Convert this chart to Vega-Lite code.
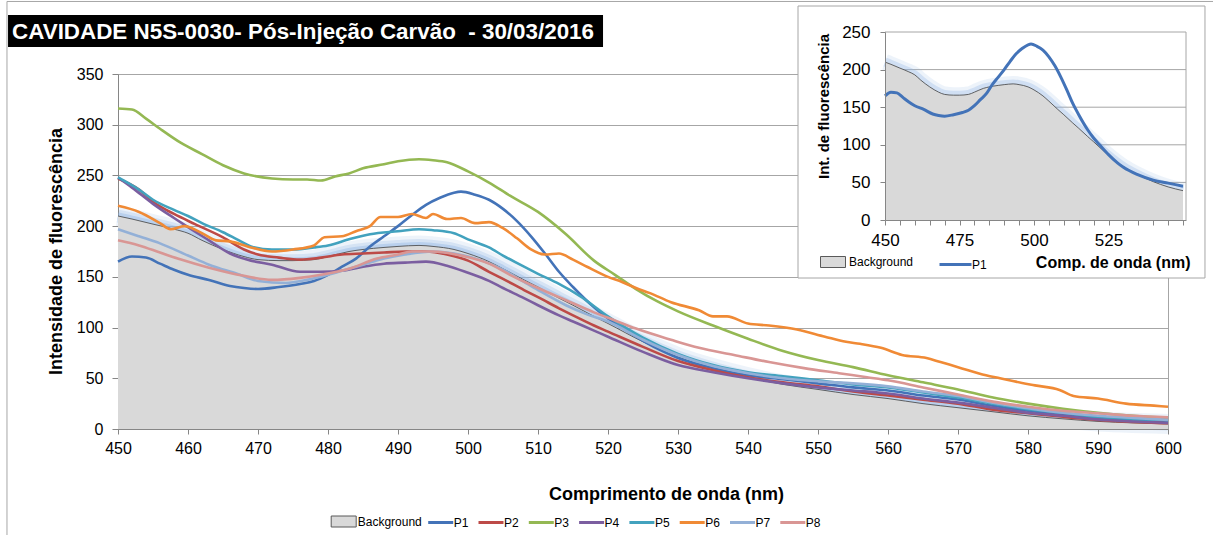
{
  "$schema": "https://vega.github.io/schema/vega-lite/v6.json",
  "width": 1050,
  "height": 355,
  "autosize": {"type": "none"},
  "padding": {"left": 118, "top": 74, "right": 45, "bottom": 106},
  "background": "white",
  "config": {
    "view": {"stroke": "#a6a6a6", "strokeWidth": 1},
    "font": "Liberation Sans",
    "axis": {"labelFont": "Liberation Sans", "titleFont": "Liberation Sans", "labelColor": "#000", "titleColor": "#000", "domainColor": "#868686", "tickColor": "#868686", "gridColor": "#a6a6a6"},
    "legend": {"labelFont": "Liberation Sans", "labelFontSize": 12, "labelColor": "#000", "title": null}
  },
  "datasets": {
    "d": [
      {"s":"Background","nm":450,"v":210},{"s":"Background","nm":452,"v":207},{"s":"Background","nm":455,"v":202},{"s":"Background","nm":458,"v":197},{"s":"Background","nm":460,"v":193},{"s":"Background","nm":462,"v":186},{"s":"Background","nm":465,"v":177},{"s":"Background","nm":468,"v":170},{"s":"Background","nm":470,"v":167},{"s":"Background","nm":473,"v":166},{"s":"Background","nm":475,"v":166},{"s":"Background","nm":478,"v":167},{"s":"Background","nm":480,"v":170},{"s":"Background","nm":483,"v":175},{"s":"Background","nm":485,"v":177},{"s":"Background","nm":488,"v":179},{"s":"Background","nm":490,"v":180},{"s":"Background","nm":493,"v":181},{"s":"Background","nm":495,"v":180},{"s":"Background","nm":498,"v":177},{"s":"Background","nm":500,"v":173},{"s":"Background","nm":503,"v":165},{"s":"Background","nm":505,"v":158},{"s":"Background","nm":508,"v":147},{"s":"Background","nm":510,"v":140},{"s":"Background","nm":513,"v":129},{"s":"Background","nm":515,"v":122},{"s":"Background","nm":518,"v":111},{"s":"Background","nm":520,"v":104},{"s":"Background","nm":525,"v":86},{"s":"Background","nm":530,"v":71},{"s":"Background","nm":535,"v":60},{"s":"Background","nm":540,"v":51},{"s":"Background","nm":545,"v":44},{"s":"Background","nm":550,"v":39},{"s":"Background","nm":555,"v":34},{"s":"Background","nm":560,"v":30},{"s":"Background","nm":565,"v":25},{"s":"Background","nm":570,"v":21},{"s":"Background","nm":575,"v":17},{"s":"Background","nm":580,"v":13},{"s":"Background","nm":585,"v":10},{"s":"Background","nm":590,"v":7.5},{"s":"Background","nm":595,"v":6},{"s":"Background","nm":600,"v":5},
      {"s":"P1","nm":450,"v":165},{"s":"P1","nm":452,"v":170},{"s":"P1","nm":454,"v":169},{"s":"P1","nm":456,"v":163},{"s":"P1","nm":458,"v":157},{"s":"P1","nm":460,"v":152},{"s":"P1","nm":463,"v":147},{"s":"P1","nm":466,"v":141},{"s":"P1","nm":468,"v":139},{"s":"P1","nm":470,"v":138},{"s":"P1","nm":473,"v":140},{"s":"P1","nm":476,"v":143},{"s":"P1","nm":478,"v":146},{"s":"P1","nm":480,"v":152},{"s":"P1","nm":482,"v":160},{"s":"P1","nm":484,"v":168},{"s":"P1","nm":486,"v":180},{"s":"P1","nm":488,"v":190},{"s":"P1","nm":490,"v":200},{"s":"P1","nm":492,"v":211},{"s":"P1","nm":494,"v":221},{"s":"P1","nm":496,"v":228},{"s":"P1","nm":498,"v":233},{"s":"P1","nm":499,"v":234},{"s":"P1","nm":501,"v":231},{"s":"P1","nm":503,"v":226},{"s":"P1","nm":505,"v":217},{"s":"P1","nm":507,"v":205},{"s":"P1","nm":509,"v":190},{"s":"P1","nm":511,"v":173},{"s":"P1","nm":513,"v":155},{"s":"P1","nm":515,"v":140},{"s":"P1","nm":518,"v":120},{"s":"P1","nm":520,"v":109},{"s":"P1","nm":522,"v":100},{"s":"P1","nm":525,"v":87},{"s":"P1","nm":528,"v":76},{"s":"P1","nm":530,"v":70},{"s":"P1","nm":535,"v":60},{"s":"P1","nm":540,"v":53},{"s":"P1","nm":545,"v":49},{"s":"P1","nm":550,"v":45},{"s":"P1","nm":555,"v":41},{"s":"P1","nm":560,"v":38},{"s":"P1","nm":565,"v":33},{"s":"P1","nm":570,"v":29},{"s":"P1","nm":575,"v":23},{"s":"P1","nm":580,"v":18},{"s":"P1","nm":585,"v":14},{"s":"P1","nm":590,"v":11},{"s":"P1","nm":595,"v":9},{"s":"P1","nm":600,"v":7.5},
      {"s":"P2","nm":450,"v":247},{"s":"P2","nm":453,"v":236},{"s":"P2","nm":455,"v":224},{"s":"P2","nm":458,"v":212},{"s":"P2","nm":461,"v":202},{"s":"P2","nm":465,"v":189},{"s":"P2","nm":468,"v":177},{"s":"P2","nm":470,"v":172},{"s":"P2","nm":473,"v":169},{"s":"P2","nm":476,"v":167},{"s":"P2","nm":479,"v":169},{"s":"P2","nm":482,"v":172},{"s":"P2","nm":485,"v":173},{"s":"P2","nm":488,"v":174},{"s":"P2","nm":491,"v":175},{"s":"P2","nm":494,"v":175},{"s":"P2","nm":497,"v":172},{"s":"P2","nm":500,"v":166},{"s":"P2","nm":503,"v":155},{"s":"P2","nm":505,"v":148},{"s":"P2","nm":508,"v":137},{"s":"P2","nm":510,"v":130},{"s":"P2","nm":513,"v":119},{"s":"P2","nm":515,"v":112},{"s":"P2","nm":518,"v":102},{"s":"P2","nm":520,"v":96},{"s":"P2","nm":525,"v":81},{"s":"P2","nm":530,"v":67},{"s":"P2","nm":535,"v":58},{"s":"P2","nm":540,"v":51},{"s":"P2","nm":545,"v":46},{"s":"P2","nm":550,"v":42},{"s":"P2","nm":555,"v":37},{"s":"P2","nm":560,"v":33},{"s":"P2","nm":565,"v":29},{"s":"P2","nm":570,"v":25},{"s":"P2","nm":575,"v":19},{"s":"P2","nm":580,"v":15.5},{"s":"P2","nm":585,"v":12},{"s":"P2","nm":590,"v":9},{"s":"P2","nm":595,"v":7},{"s":"P2","nm":600,"v":5.6},
      {"s":"P3","nm":450,"v":316},{"s":"P3","nm":452,"v":315},{"s":"P3","nm":454,"v":306},{"s":"P3","nm":456,"v":296},{"s":"P3","nm":459,"v":282},{"s":"P3","nm":462,"v":271},{"s":"P3","nm":465,"v":260},{"s":"P3","nm":468,"v":252},{"s":"P3","nm":472,"v":247},{"s":"P3","nm":475,"v":246},{"s":"P3","nm":477,"v":246},{"s":"P3","nm":479,"v":245},{"s":"P3","nm":481,"v":249},{"s":"P3","nm":483,"v":252},{"s":"P3","nm":485,"v":257},{"s":"P3","nm":488,"v":261},{"s":"P3","nm":490,"v":264},{"s":"P3","nm":493,"v":266},{"s":"P3","nm":495,"v":265},{"s":"P3","nm":497,"v":263},{"s":"P3","nm":500,"v":254},{"s":"P3","nm":503,"v":243},{"s":"P3","nm":506,"v":230},{"s":"P3","nm":510,"v":214},{"s":"P3","nm":514,"v":192},{"s":"P3","nm":518,"v":166},{"s":"P3","nm":521,"v":152},{"s":"P3","nm":524,"v":138},{"s":"P3","nm":527,"v":126},{"s":"P3","nm":530,"v":116},{"s":"P3","nm":535,"v":102},{"s":"P3","nm":540,"v":89},{"s":"P3","nm":545,"v":77},{"s":"P3","nm":550,"v":68},{"s":"P3","nm":555,"v":61},{"s":"P3","nm":560,"v":53},{"s":"P3","nm":565,"v":46},{"s":"P3","nm":570,"v":39},{"s":"P3","nm":575,"v":31},{"s":"P3","nm":580,"v":25},{"s":"P3","nm":585,"v":20},{"s":"P3","nm":590,"v":16},{"s":"P3","nm":595,"v":13},{"s":"P3","nm":600,"v":11},
      {"s":"P4","nm":450,"v":248},{"s":"P4","nm":452,"v":238},{"s":"P4","nm":455,"v":222},{"s":"P4","nm":458,"v":208},{"s":"P4","nm":460,"v":199},{"s":"P4","nm":463,"v":186},{"s":"P4","nm":466,"v":173},{"s":"P4","nm":469,"v":166},{"s":"P4","nm":472,"v":162},{"s":"P4","nm":476,"v":155},{"s":"P4","nm":479,"v":155},{"s":"P4","nm":482,"v":156},{"s":"P4","nm":485,"v":160},{"s":"P4","nm":488,"v":163},{"s":"P4","nm":491,"v":164},{"s":"P4","nm":494,"v":165},{"s":"P4","nm":497,"v":161},{"s":"P4","nm":500,"v":154},{"s":"P4","nm":503,"v":146},{"s":"P4","nm":505,"v":139},{"s":"P4","nm":508,"v":129},{"s":"P4","nm":510,"v":122},{"s":"P4","nm":513,"v":112},{"s":"P4","nm":515,"v":106},{"s":"P4","nm":518,"v":97},{"s":"P4","nm":520,"v":91},{"s":"P4","nm":525,"v":76},{"s":"P4","nm":530,"v":63},{"s":"P4","nm":535,"v":56},{"s":"P4","nm":540,"v":50},{"s":"P4","nm":545,"v":45},{"s":"P4","nm":550,"v":41},{"s":"P4","nm":555,"v":38},{"s":"P4","nm":560,"v":35},{"s":"P4","nm":565,"v":30},{"s":"P4","nm":570,"v":26},{"s":"P4","nm":575,"v":21},{"s":"P4","nm":580,"v":16},{"s":"P4","nm":585,"v":13},{"s":"P4","nm":590,"v":9.5},{"s":"P4","nm":595,"v":7.5},{"s":"P4","nm":600,"v":6},
      {"s":"P5","nm":450,"v":248},{"s":"P5","nm":453,"v":236},{"s":"P5","nm":455,"v":226},{"s":"P5","nm":458,"v":216},{"s":"P5","nm":460,"v":210},{"s":"P5","nm":462,"v":203},{"s":"P5","nm":465,"v":194},{"s":"P5","nm":467,"v":187},{"s":"P5","nm":469,"v":180},{"s":"P5","nm":472,"v":177},{"s":"P5","nm":475,"v":177},{"s":"P5","nm":478,"v":179},{"s":"P5","nm":480,"v":181},{"s":"P5","nm":483,"v":187},{"s":"P5","nm":486,"v":192},{"s":"P5","nm":490,"v":195},{"s":"P5","nm":493,"v":197},{"s":"P5","nm":495,"v":196},{"s":"P5","nm":498,"v":193},{"s":"P5","nm":500,"v":187},{"s":"P5","nm":503,"v":179},{"s":"P5","nm":505,"v":171},{"s":"P5","nm":508,"v":160},{"s":"P5","nm":510,"v":153},{"s":"P5","nm":513,"v":143},{"s":"P5","nm":516,"v":131},{"s":"P5","nm":520,"v":111},{"s":"P5","nm":525,"v":90},{"s":"P5","nm":530,"v":74},{"s":"P5","nm":535,"v":63},{"s":"P5","nm":540,"v":56},{"s":"P5","nm":545,"v":52},{"s":"P5","nm":550,"v":48},{"s":"P5","nm":555,"v":44},{"s":"P5","nm":560,"v":41},{"s":"P5","nm":565,"v":36},{"s":"P5","nm":570,"v":31},{"s":"P5","nm":575,"v":25},{"s":"P5","nm":580,"v":19.5},{"s":"P5","nm":585,"v":16},{"s":"P5","nm":590,"v":12},{"s":"P5","nm":595,"v":10},{"s":"P5","nm":600,"v":9},
      {"s":"P6","nm":450,"v":220},{"s":"P6","nm":453,"v":214},{"s":"P6","nm":456,"v":203},{"s":"P6","nm":457.5,"v":197},{"s":"P6","nm":459.5,"v":200},{"s":"P6","nm":462,"v":193},{"s":"P6","nm":464,"v":186},{"s":"P6","nm":466,"v":185},{"s":"P6","nm":468.5,"v":180},{"s":"P6","nm":472,"v":175},{"s":"P6","nm":475,"v":177},{"s":"P6","nm":478,"v":181},{"s":"P6","nm":479.5,"v":189},{"s":"P6","nm":482,"v":190},{"s":"P6","nm":484,"v":195},{"s":"P6","nm":486,"v":200},{"s":"P6","nm":487.5,"v":209},{"s":"P6","nm":490,"v":209},{"s":"P6","nm":492,"v":212},{"s":"P6","nm":494,"v":208},{"s":"P6","nm":495,"v":212},{"s":"P6","nm":497,"v":207},{"s":"P6","nm":499,"v":208},{"s":"P6","nm":501,"v":203},{"s":"P6","nm":503,"v":204},{"s":"P6","nm":505,"v":198},{"s":"P6","nm":507,"v":188},{"s":"P6","nm":509,"v":177},{"s":"P6","nm":511,"v":172},{"s":"P6","nm":513,"v":173},{"s":"P6","nm":515,"v":167},{"s":"P6","nm":517,"v":160},{"s":"P6","nm":520,"v":150},{"s":"P6","nm":522,"v":145},{"s":"P6","nm":524,"v":139},{"s":"P6","nm":526,"v":134},{"s":"P6","nm":529,"v":125},{"s":"P6","nm":533,"v":117},{"s":"P6","nm":535,"v":111},{"s":"P6","nm":537,"v":111},{"s":"P6","nm":540,"v":104},{"s":"P6","nm":543,"v":102},{"s":"P6","nm":547,"v":98},{"s":"P6","nm":551,"v":91},{"s":"P6","nm":554,"v":86},{"s":"P6","nm":556,"v":84},{"s":"P6","nm":559,"v":80},{"s":"P6","nm":562,"v":73},{"s":"P6","nm":565.5,"v":70},{"s":"P6","nm":567.5,"v":66},{"s":"P6","nm":570,"v":61},{"s":"P6","nm":574,"v":53},{"s":"P6","nm":576,"v":50},{"s":"P6","nm":578,"v":47},{"s":"P6","nm":581,"v":43},{"s":"P6","nm":584.5,"v":38.5},{"s":"P6","nm":586.5,"v":32.5},{"s":"P6","nm":590,"v":30},{"s":"P6","nm":594,"v":25},{"s":"P6","nm":598,"v":23},{"s":"P6","nm":600,"v":22},
      {"s":"P7","nm":450,"v":197},{"s":"P7","nm":453,"v":190},{"s":"P7","nm":456,"v":183},{"s":"P7","nm":460,"v":171},{"s":"P7","nm":463,"v":162},{"s":"P7","nm":467,"v":153},{"s":"P7","nm":470,"v":146},{"s":"P7","nm":474,"v":144},{"s":"P7","nm":477,"v":147},{"s":"P7","nm":480,"v":152},{"s":"P7","nm":482,"v":156},{"s":"P7","nm":485,"v":162},{"s":"P7","nm":488,"v":168},{"s":"P7","nm":491,"v":172},{"s":"P7","nm":495,"v":175},{"s":"P7","nm":498,"v":173},{"s":"P7","nm":502,"v":166},{"s":"P7","nm":505,"v":157},{"s":"P7","nm":508,"v":145},{"s":"P7","nm":510,"v":137},{"s":"P7","nm":514,"v":122},{"s":"P7","nm":517,"v":113},{"s":"P7","nm":520,"v":106},{"s":"P7","nm":525,"v":88},{"s":"P7","nm":530,"v":73},{"s":"P7","nm":535,"v":62},{"s":"P7","nm":540,"v":55},{"s":"P7","nm":545,"v":50},{"s":"P7","nm":550,"v":47},{"s":"P7","nm":555,"v":45},{"s":"P7","nm":560,"v":42},{"s":"P7","nm":565,"v":37},{"s":"P7","nm":570,"v":32.5},{"s":"P7","nm":575,"v":26},{"s":"P7","nm":580,"v":20.5},{"s":"P7","nm":585,"v":16},{"s":"P7","nm":590,"v":13},{"s":"P7","nm":595,"v":11},{"s":"P7","nm":600,"v":9},
      {"s":"P8","nm":450,"v":186},{"s":"P8","nm":453,"v":181},{"s":"P8","nm":456,"v":174},{"s":"P8","nm":459,"v":167},{"s":"P8","nm":463,"v":159},{"s":"P8","nm":468,"v":151},{"s":"P8","nm":472,"v":147},{"s":"P8","nm":476,"v":149},{"s":"P8","nm":479,"v":152},{"s":"P8","nm":483,"v":158},{"s":"P8","nm":487,"v":168},{"s":"P8","nm":490,"v":172},{"s":"P8","nm":492,"v":175},{"s":"P8","nm":495,"v":175},{"s":"P8","nm":499,"v":171},{"s":"P8","nm":503,"v":163},{"s":"P8","nm":506,"v":152},{"s":"P8","nm":510,"v":139},{"s":"P8","nm":514,"v":127},{"s":"P8","nm":518,"v":115},{"s":"P8","nm":521,"v":107},{"s":"P8","nm":524,"v":99},{"s":"P8","nm":529,"v":88},{"s":"P8","nm":533,"v":80},{"s":"P8","nm":538,"v":73},{"s":"P8","nm":543,"v":66},{"s":"P8","nm":548,"v":60},{"s":"P8","nm":553,"v":55},{"s":"P8","nm":557,"v":51},{"s":"P8","nm":560,"v":48},{"s":"P8","nm":565,"v":41},{"s":"P8","nm":570,"v":34},{"s":"P8","nm":575,"v":27},{"s":"P8","nm":580,"v":22},{"s":"P8","nm":585,"v":18},{"s":"P8","nm":590,"v":15.5},{"s":"P8","nm":595,"v":13},{"s":"P8","nm":600,"v":11.5}
    ],
    "grid": [{"g": 50}, {"g": 100}, {"g": 150}, {"g": 200}, {"g": 250}],
    "one": [{}]
  },
  "layer": [
    {
      "data": {"name": "d"},
      "layer": [
        {
          "data": {"name": "one"},
          "mark": {"type": "rect", "fillOpacity": 0, "stroke": "#a6a6a6", "strokeWidth": 1},
          "encoding": {
            "x": {"datum": 434.14, "type": "quantitative"}, "x2": {"datum": 612},
            "y": {"datum": 421.5, "type": "quantitative"}, "y2": {"datum": -140}
          }
        },
        {
          "data": {"name": "one"},
          "mark": {"type": "rect", "fill": "#000000"},
          "encoding": {
            "x": {"datum": 434.29, "type": "quantitative"}, "x2": {"datum": 519.29},
            "y": {"datum": 408.17, "type": "quantitative"}, "y2": {"datum": 376.62}
          }
        },
        {
          "data": {"name": "one"},
          "mark": {"type": "text", "text": "CAVIDADE N5S-0030- Pós-Injeção Carvão \u00a0- 30/03/2016", "align": "left", "baseline": "alphabetic", "font": "Liberation Sans", "fontSize": 22.4, "fontWeight": "bold", "fill": "#ffffff"},
          "encoding": {
            "x": {"datum": 434.86, "type": "quantitative"},
            "y": {"datum": 384.5, "type": "quantitative"}
          }
        },
        {
          "transform": [{"filter": "datum.s === 'Background'"}],
          "mark": {"type": "line", "interpolate": "monotone", "stroke": "#8eb4e3", "strokeWidth": 20, "strokeOpacity": 0.16},
          "encoding": {"x": {"field": "nm", "type": "quantitative"}, "y": {"field": "v", "type": "quantitative"}}
        },
        {
          "transform": [{"filter": "datum.s === 'Background'"}],
          "mark": {"type": "line", "interpolate": "monotone", "stroke": "#8eb4e3", "strokeWidth": 13, "strokeOpacity": 0.25},
          "encoding": {"x": {"field": "nm", "type": "quantitative"}, "y": {"field": "v", "type": "quantitative"}}
        },
        {
          "transform": [{"filter": "datum.s === 'Background'"}],
          "mark": {"type": "line", "interpolate": "monotone", "stroke": "#8eb4e3", "strokeWidth": 7, "strokeOpacity": 0.4},
          "encoding": {"x": {"field": "nm", "type": "quantitative"}, "y": {"field": "v", "type": "quantitative"}}
        },
        {
          "transform": [{"filter": "datum.s === 'Background'"}],
          "mark": {"type": "area", "interpolate": "monotone", "opacity": 1},
          "encoding": {
            "x": {
              "field": "nm", "type": "quantitative",
              "scale": {"domain": [450, 600], "nice": false, "zero": false},
              "axis": {
                "title": "Comprimento de onda (nm)",
                "values": [450,452.5,455,457.5,460,462.5,465,467.5,470,472.5,475,477.5,480,482.5,485,487.5,490,492.5,495,497.5,500,502.5,505,507.5,510,512.5,515,517.5,520,522.5,525,527.5,530,532.5,535,537.5,540,542.5,545,547.5,550,552.5,555,557.5,560,562.5,565,567.5,570,572.5,575,577.5,580,582.5,585,587.5,590,592.5,595,597.5,600],
                "labelExpr": "datum.value % 10 === 0 ? datum.label : ''",
                "labelOverlap": false, "labelFlush": false, "grid": false,
                "tickSize": 5, "labelPadding": 6, "labelFontSize": 16,
                "titleFontSize": 18, "titleFontWeight": "bold",
                "titleX": 548, "titleY": 70, "titleAlign": "center", "titleBaseline": "alphabetic",
                "zindex": 1
              }
            },
            "y": {
              "field": "v", "type": "quantitative",
              "scale": {"domain": [0, 350], "nice": false},
              "axis": {
                "title": "Intensidade de fluorescência",
                "values": [0, 50, 100, 150, 200, 250, 300, 350],
                "grid": true, "gridColor": "#a6a6a6",
                "tickSize": 6, "labelPadding": 9, "labelFontSize": 16,
                "titleFontSize": 18, "titleFontWeight": "bold",
                "titleAngle": -90, "titleX": -57, "titleY": 177, "titleAlign": "center", "titleBaseline": "alphabetic",
                "zindex": 0
              }
            },
            "fill": {
              "field": "s", "type": "nominal",
              "scale": {"domain": ["Background"], "range": ["#d9d9d9"]},
              "legend": {
                "orient": "none", "legendX": 212.7, "legendY": 434.5,
                "symbolType": "M-1,-0.44H1V0.44H-1Z", "symbolSize": 625,
                "symbolStrokeColor": "#595959", "symbolStrokeWidth": 1, "symbolOpacity": 1,
                "labelOffset": 1
              }
            }
          }
        },
        {
          "transform": [{"filter": "datum.s === 'Background'"}],
          "mark": {"type": "line", "interpolate": "monotone", "stroke": "#404040", "strokeWidth": 0.8},
          "encoding": {"x": {"field": "nm", "type": "quantitative"}, "y": {"field": "v", "type": "quantitative"}}
        },
        {
          "transform": [{"filter": "datum.s !== 'Background'"}],
          "mark": {"type": "line", "interpolate": "monotone", "strokeWidth": 2.6},
          "encoding": {
            "x": {"field": "nm", "type": "quantitative"},
            "y": {"field": "v", "type": "quantitative"},
            "stroke": {
              "field": "s", "type": "nominal",
              "scale": {"domain": ["P1","P2","P3","P4","P5","P6","P7","P8"], "range": ["#4373b8","#bd4a47","#94b853","#7b5ea0","#42a2be","#f08a35","#93b0d7","#d99694"]},
              "legend": {
                "orient": "none", "direction": "horizontal", "legendX": 308.7, "legendY": 434.5,
                "symbolType": "stroke", "symbolSize": 625, "symbolStrokeWidth": 3,
                "columnPadding": 3.3, "labelOffset": -1
              }
            }
          }
        }
      ]
    },
    {
      "data": {"name": "d"},
      "layer": [
        {
          "data": {"name": "one"},
          "mark": {"type": "rect", "fill": "#ffffff", "stroke": "#a6a6a6", "strokeWidth": 1},
          "encoding": {
            "x": {"datum": 420.81, "type": "quantitative"}, "x2": {"datum": 557.37},
            "y": {"datum": 284.57, "type": "quantitative"}, "y2": {"datum": -77.13}
          }
        },
        {
          "data": {"name": "grid"},
          "mark": {"type": "rule", "stroke": "#a6a6a6", "strokeWidth": 1},
          "encoding": {
            "x": {"datum": 450, "type": "quantitative"}, "x2": {"datum": 551},
            "y": {"field": "g", "type": "quantitative"}
          }
        },
        {
          "data": {"name": "one"},
          "mark": {"type": "rule", "stroke": "#a6a6a6", "strokeWidth": 1},
          "encoding": {
            "x": {"datum": 551, "type": "quantitative"},
            "y": {"datum": 0, "type": "quantitative"}, "y2": {"datum": 250}
          }
        },
        {
          "transform": [{"filter": "datum.s === 'Background' && datum.nm <= 551"}],
          "mark": {"type": "line", "interpolate": "monotone", "stroke": "#8eb4e3", "strokeWidth": 16, "strokeOpacity": 0.16},
          "encoding": {"x": {"field": "nm", "type": "quantitative"}, "y": {"field": "v", "type": "quantitative"}}
        },
        {
          "transform": [{"filter": "datum.s === 'Background' && datum.nm <= 551"}],
          "mark": {"type": "line", "interpolate": "monotone", "stroke": "#8eb4e3", "strokeWidth": 9, "strokeOpacity": 0.3},
          "encoding": {"x": {"field": "nm", "type": "quantitative"}, "y": {"field": "v", "type": "quantitative"}}
        },
        {
          "transform": [{"filter": "datum.s === 'Background' && datum.nm <= 551"}],
          "mark": {"type": "area", "interpolate": "monotone"},
          "encoding": {
            "x": {
              "field": "nm", "type": "quantitative",
              "scale": {"domain": [450, 551], "range": [767, 1068], "nice": false, "zero": false},
              "axis": {
                "title": "Comp. de onda (nm)", "orient": "bottom", "offset": -209,
                "values": [450,452.5,455,457.5,460,462.5,465,467.5,470,472.5,475,477.5,480,482.5,485,487.5,490,492.5,495,497.5,500,502.5,505,507.5,510,512.5,515,517.5,520,522.5,525,527.5,530,532.5,535,537.5,540,542.5,545,547.5,550],
                "labelExpr": "datum.value % 25 === 0 && datum.value < 550 ? datum.label : ''",
                "labelOverlap": false, "labelFlush": false, "grid": false,
                "tickSize": 5, "labelPadding": 7, "labelFontSize": 17,
                "titleFontSize": 16, "titleFontWeight": "bold",
                "titleX": 1072, "titleY": 47, "titleAlign": "right", "titleBaseline": "alphabetic",
                "zindex": 2
              }
            },
            "y": {
              "field": "v", "type": "quantitative",
              "scale": {"domain": [0, 250], "range": [146, -42], "nice": false},
              "axis": {
                "title": "Int. de fluorescência", "orient": "left", "offset": -767,
                "values": [0, 50, 100, 150, 200, 250], "grid": false,
                "tickSize": 5, "labelPadding": 10, "labelFontSize": 17,
                "titleFontSize": 15, "titleFontWeight": "bold",
                "titleAngle": -90, "titleX": -57, "titleY": 32, "titleAlign": "center", "titleBaseline": "alphabetic",
                "zindex": 2
              }
            },
            "fill": {
              "field": "s", "type": "nominal",
              "scale": {"domain": ["Background"], "range": ["#d9d9d9"]},
              "legend": {
                "orient": "none", "legendX": 702, "legendY": 175,
                "symbolType": "M-1,-0.44H1V0.44H-1Z", "symbolSize": 625,
                "symbolStrokeColor": "#595959", "symbolStrokeWidth": 1, "symbolOpacity": 1,
                "labelOffset": 3
              }
            }
          }
        },
        {
          "transform": [{"filter": "datum.s === 'Background' && datum.nm <= 551"}],
          "mark": {"type": "line", "interpolate": "monotone", "stroke": "#404040", "strokeWidth": 0.8},
          "encoding": {"x": {"field": "nm", "type": "quantitative"}, "y": {"field": "v", "type": "quantitative"}}
        },
        {
          "transform": [{"filter": "datum.s === 'P1' && datum.nm <= 551"}],
          "mark": {"type": "line", "interpolate": "monotone", "strokeWidth": 3},
          "encoding": {
            "x": {"field": "nm", "type": "quantitative"},
            "y": {"field": "v", "type": "quantitative"},
            "stroke": {
              "field": "s", "type": "nominal",
              "scale": {"domain": ["P1"], "range": ["#4373b8"]},
              "legend": {
                "orient": "none", "legendX": 820, "legendY": 173,
                "symbolType": "stroke", "symbolSize": 1024, "symbolStrokeWidth": 3,
                "labelOffset": -1
              }
            }
          }
        }
      ]
    }
  ],
  "resolve": {
    "scale": {"x": "independent", "y": "independent", "fill": "independent", "stroke": "independent"},
    "axis": {"x": "independent", "y": "independent"},
    "legend": {"fill": "independent", "stroke": "independent"}
  }
}
